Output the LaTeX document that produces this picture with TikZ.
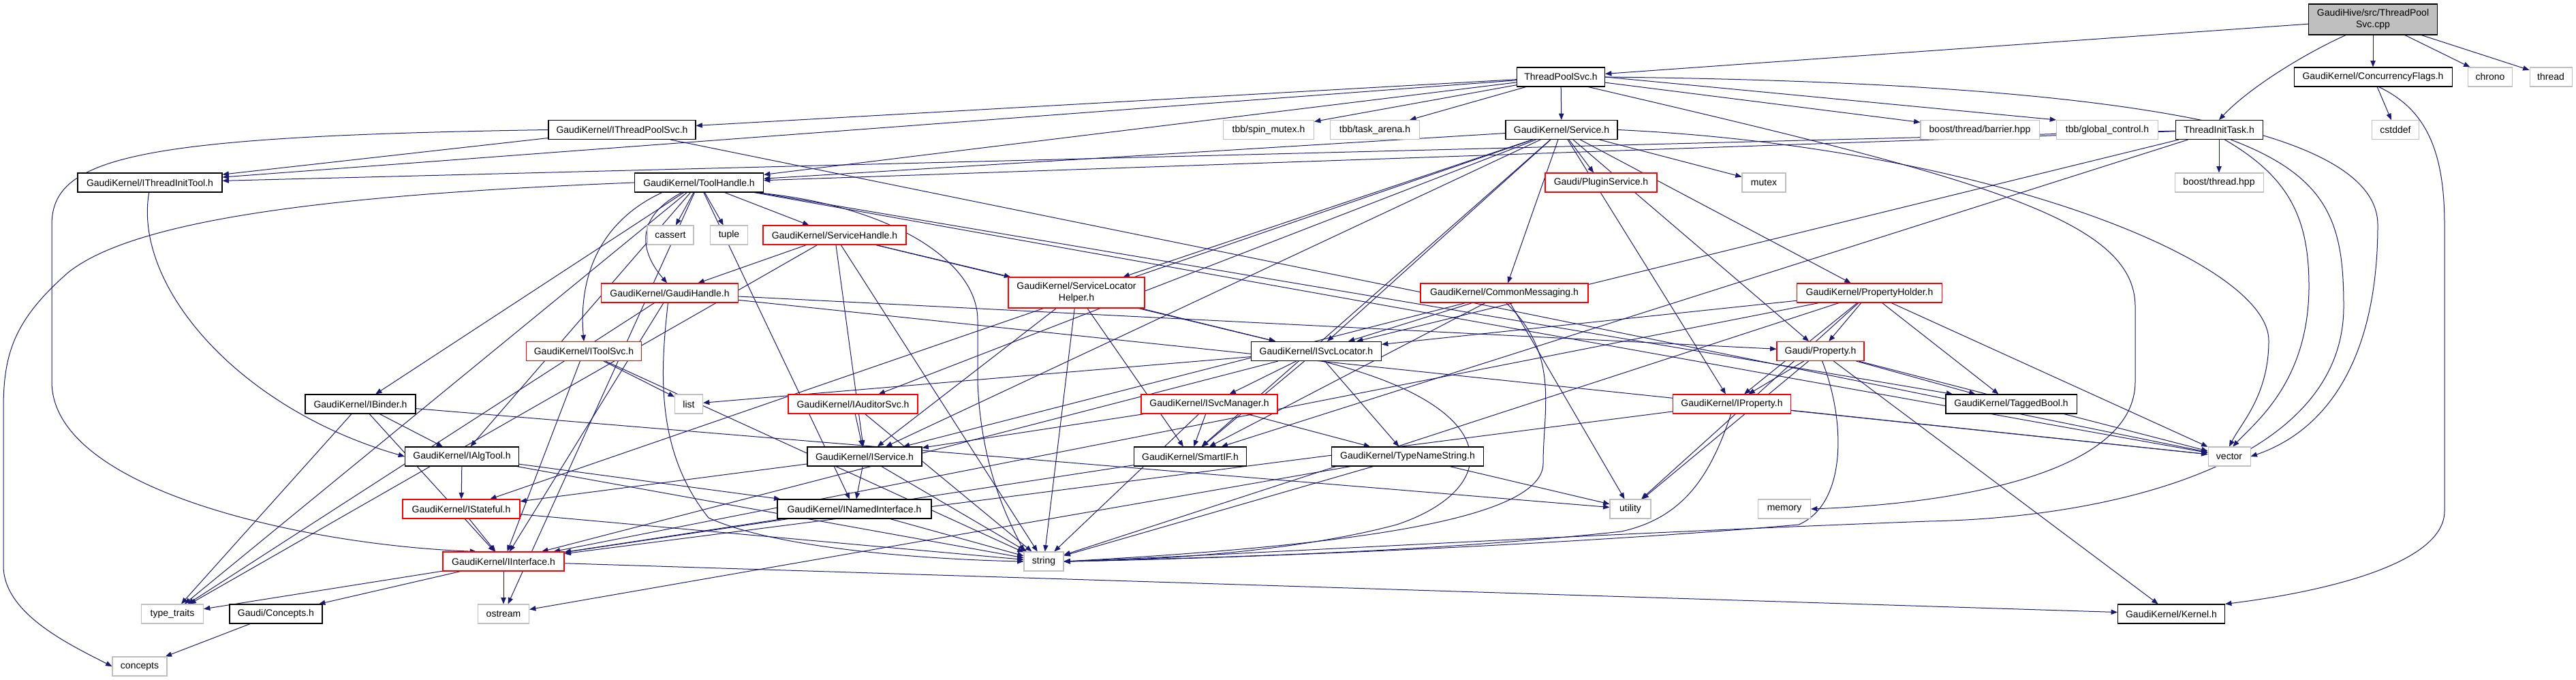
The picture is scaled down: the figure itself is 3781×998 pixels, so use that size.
\documentclass[tikz,border=0pt]{standalone}
\usepackage{fontspec}
\setmainfont{Liberation Sans}
\usetikzlibrary{arrows.meta,backgrounds}
\definecolor{edgeblue}{RGB}{25,25,112}
\definecolor{sysgrey}{RGB}{191,191,191}
\tikzset{
 box/.style={rectangle, fill=white, inner sep=0pt, minimum height=21pt, font=\fontsize{10.5}{13}\selectfont, line width=0.8pt},
 docbox/.style={box, draw=black},
 sysbox/.style={box, draw=sysgrey},
 redbox/.style={box, draw=red},
 rootbox/.style={box, draw=black, fill=sysgrey, align=center, minimum height=33.75pt},
 dep/.style={draw=edgeblue, line width=0.75pt, -{Triangle[length=7pt,width=5.5pt]}},
}
\newcommand\mkn[6]{\node[#1, minimum width=#5*0.75pt] (#2) at (#3,#4) {#6};}
\newcommand\lnk[2]{\draw[dep] (#1) -- (#2);}
\begin{document}
\begin{tikzpicture}[x=0.75pt,y=-0.75pt]
\useasboundingbox (0,0) rectangle (3781,998);
\mkn{rootbox}{root}{3483}{28.5}{189}{GaudiHive/src/ThreadPool\\Svc.cpp}
\mkn{docbox}{tps}{2291}{113}{129}{ThreadPoolSvc.h}
\mkn{docbox}{cflags}{3483}{113}{232}{GaudiKernel/ConcurrencyFlags.h}
\mkn{sysbox}{chrono}{3655}{113}{65}{chrono}
\mkn{sysbox}{thread}{3744}{113}{62}{thread}
\mkn{docbox}{itps}{913}{190.5}{216}{GaudiKernel/IThreadPoolSvc.h}
\mkn{sysbox}{spin}{1862}{190.5}{133}{tbb/spin\_mutex.h}
\mkn{sysbox}{arena}{2018}{190.5}{131}{tbb/task\_arena.h}
\mkn{docbox}{service}{2292}{190.5}{164}{GaudiKernel/Service.h}
\mkn{sysbox}{barrier}{2906}{190.5}{174}{boost/thread/barrier.hpp}
\mkn{sysbox}{gctl}{3093}{190.5}{149}{tbb/global\_control.h}
\mkn{docbox}{tit}{3257}{190.5}{128}{ThreadInitTask.h}
\mkn{sysbox}{cstddef}{3516}{190.5}{69}{cstddef}
\mkn{docbox}{itit}{220}{268}{212}{GaudiKernel/IThreadInitTool.h}
\mkn{docbox}{toolh}{1026}{268}{189}{GaudiKernel/ToolHandle.h}
\mkn{redbox}{plugin}{2350}{268}{164}{Gaudi/PluginService.h}
\mkn{sysbox}{mutex}{2589}{268}{64}{mutex}
\mkn{sysbox}{bthread}{3257}{268}{130}{boost/thread.hpp}
\mkn{sysbox}{cassert}{984}{345}{68}{cassert}
\mkn{sysbox}{tuple}{1070}{345}{55}{tuple}
\mkn{redbox}{shandle}{1225}{345}{210}{GaudiKernel/ServiceHandle.h}
\mkn{redbox}{ghandle}{983}{430}{201}{GaudiKernel/GaudiHandle.h}
\node[redbox, align=center, minimum height=33.75pt, minimum width=200*0.75pt] (slhelper) at (1580,429.5) {GaudiKernel/ServiceLocator\\Helper.h};
\mkn{redbox}{cmsg}{2208}{430}{246}{GaudiKernel/CommonMessaging.h}
\mkn{redbox}{pholder}{2744}{430}{213}{GaudiKernel/PropertyHolder.h}
\mkn{redbox}{itoolsvc}{857}{515.5}{169}{GaudiKernel/IToolSvc.h}
\mkn{docbox}{isvcloc}{1932}{515.5}{191}{GaudiKernel/ISvcLocator.h}
\mkn{redbox}{property}{2672}{515.5}{128}{Gaudi/Property.h}
\mkn{docbox}{ibinder}{529}{593}{162}{GaudiKernel/IBinder.h}
\mkn{sysbox}{list}{1011}{593}{41}{list}
\mkn{redbox}{iauditor}{1252}{593}{190}{GaudiKernel/IAuditorSvc.h}
\mkn{redbox}{isvcmgr}{1775}{593}{200}{GaudiKernel/ISvcManager.h}
\mkn{redbox}{iproperty}{2542}{593}{173}{GaudiKernel/IProperty.h}
\mkn{docbox}{tagged}{2952}{593}{192}{GaudiKernel/TaggedBool.h}
\mkn{docbox}{ialgtool}{678}{670}{167}{GaudiKernel/IAlgTool.h}
\mkn{docbox}{iservice}{1269}{670}{168}{GaudiKernel/IService.h}
\mkn{docbox}{smartif}{1747}{670}{165}{GaudiKernel/SmartIF.h}
\mkn{docbox}{tname}{2066}{670}{223}{GaudiKernel/TypeNameString.h}
\mkn{sysbox}{vector}{3272}{670}{62}{vector}
\mkn{redbox}{istateful}{677}{747}{172}{GaudiKernel/IStateful.h}
\mkn{docbox}{inamed}{1254}{747}{226}{GaudiKernel/INamedInterface.h}
\mkn{sysbox}{utility}{2393}{747}{60}{utility}
\mkn{sysbox}{memory}{2619}{747}{77}{memory}
\mkn{redbox}{iface}{739}{824}{178}{GaudiKernel/IInterface.h}
\mkn{sysbox}{string}{1532}{824}{58}{string}
\mkn{sysbox}{ttraits}{253}{901}{91}{type\_traits}
\mkn{docbox}{conch}{405}{901}{136}{Gaudi/Concepts.h}
\mkn{sysbox}{ostream}{739}{901}{75}{ostream}
\mkn{docbox}{kernel}{3187}{901}{157}{GaudiKernel/Kernel.h}
\mkn{sysbox}{concepts}{205}{978}{80}{concepts}
\begin{scope}[on background layer]
% custom routed edges
\draw[dep] (cflags.-60) .. controls (3560,160) and (3588,220) .. (3588,330) -- (3588,750) .. controls (3588,830) and (3400,870) .. (kernel.north east);
\draw[dep] (tps.east) .. controls (3000,120) and (3490,170) .. (3490,330) .. controls (3490,520) and (3420,630) .. (vector.east);
\draw[dep] (service.east) .. controls (2900,215) and (3330,380) .. (3330,500) .. controls (3330,580) and (3290,620) .. (vector.north);
\draw[dep] (tps.-20) .. controls (2900,260) and (3134,320) .. (3134,450) -- (3134,560) .. controls (3134,700) and (2850,740) .. (memory.east);
\draw[dep] (tit.-60) .. controls (3360,260) and (3389,320) .. (3389,420) .. controls (3389,560) and (3310,620) .. (vector.70);
\draw[dep] (tit.-40) .. controls (3420,260) and (3440,330) .. (3440,450) .. controls (3440,680) and (3100,760) .. (2831,765) .. controls (2300,785) and (1800,815) .. (string.east);
\draw[dep] (itps.west) .. controls (200,200) and (76,230) .. (76,330) -- (76,560) .. controls (76,720) and (450,800) .. (iface.160);
\draw[dep] (toolh.west) .. controls (500,285) and (200,320) .. (100,400) .. controls (20,470) and (5,520) .. (5,600) -- (5,830) .. controls (5,900) and (100,945) .. (concepts.west);
\draw[dep] (toolh.-10) .. controls (1300,300) and (1435,380) .. (1435,470) -- (1435,560) .. controls (1440,700) and (1490,780) .. (string.north west);
\draw[dep] (ghandle.-100) .. controls (970,540) and (960,660) .. (1040,760) .. controls (1150,810) and (1400,822) .. (string.west);
\draw[dep] (itit.-95) .. controls (195,420) and (350,600) .. (ialgtool.west);
\draw[dep] (property.-80) .. controls (2710,620) and (2710,740) .. (2640,770) .. controls (2300,800) and (1800,820) .. (string.east);
\draw[dep] (iproperty.-95) .. controls (2510,700) and (2470,760) .. (2380,780) .. controls (2100,810) and (1800,818) .. (string.east);
\draw[dep] (isvcloc.-60) .. controls (2220,600) and (2200,720) .. (2050,770) .. controls (1900,810) and (1700,822) .. (string.east);
\draw[dep] (cmsg.-80) .. controls (2290,520) and (2265,600) .. (2265,680) .. controls (2265,760) and (2000,800) .. (string.east);
\draw[dep] (toolh.-150) .. controls (930,320) and (940,370) .. (ghandle.105);
\draw[dep] (toolh.-165) .. controls (870,330) and (850,420) .. (itoolsvc.north);
\draw[dep] (root.-150) .. controls (3380,80) and (3300,130) .. (tit.north);
\draw[dep] (tps.east) -- (gctl.north west);
% straight edges
\lnk{root}{tps}\lnk{root}{cflags}\lnk{root}{chrono}\lnk{root}{thread}
\lnk{cflags}{cstddef}
\lnk{tps}{itps}\lnk{tps}{spin}\lnk{tps}{arena}\lnk{tps}{service}\lnk{tps}{barrier}\lnk{tps}{itit}\lnk{tps}{toolh}
\lnk{itps}{itit}\lnk{itps}{vector}
\lnk{tit}{itit}\lnk{tit}{toolh}\lnk{tit}{isvcloc}\lnk{tit}{smartif}\lnk{tit}{bthread}
\lnk{service}{plugin}\lnk{service}{mutex}\lnk{service}{cmsg}\lnk{service}{pholder}\lnk{service}{property}
\lnk{service}{iproperty}\lnk{service}{isvcloc}\lnk{service}{smartif}\lnk{service}{iservice}\lnk{service}{iauditor}
\lnk{service}{slhelper}\lnk{service}{toolh}\lnk{service}{istateful}
\lnk{toolh}{ialgtool}\lnk{toolh}{ibinder}\lnk{toolh}{inamed}
\lnk{toolh}{shandle}\lnk{toolh}{tagged}\lnk{toolh}{cassert}\lnk{toolh}{tuple}\lnk{toolh}{ttraits}
\lnk{toolh}{vector}\lnk{toolh}{ostream}
\lnk{shandle}{ghandle}\lnk{shandle}{slhelper}\lnk{shandle}{isvcloc}\lnk{shandle}{string}\lnk{shandle}{ttraits}\lnk{shandle}{iservice}
\lnk{ghandle}{iface}\lnk{ghandle}{property}\lnk{ghandle}{ttraits}\lnk{ghandle}{vector}
\lnk{slhelper}{isvcloc}\lnk{slhelper}{smartif}\lnk{slhelper}{string}\lnk{slhelper}{iservice}
\lnk{cmsg}{isvcloc}\lnk{cmsg}{smartif}\lnk{cmsg}{iservice}\lnk{cmsg}{utility}
\lnk{pholder}{isvcloc}\lnk{pholder}{iface}\lnk{pholder}{iproperty}\lnk{pholder}{property}\lnk{pholder}{utility}
\lnk{pholder}{vector}\lnk{pholder}{string}\lnk{pholder}{tagged}
\lnk{itoolsvc}{iface}\lnk{itoolsvc}{string}\lnk{itoolsvc}{list}
\lnk{isvcloc}{list}\lnk{isvcloc}{iface}\lnk{isvcloc}{smartif}\lnk{isvcloc}{isvcmgr}\lnk{isvcloc}{tname}
\lnk{property}{iproperty}\lnk{property}{tagged}\lnk{property}{utility}\lnk{property}{vector}\lnk{property}{kernel}
\lnk{ibinder}{ialgtool}\lnk{ibinder}{iface}\lnk{ibinder}{ttraits}\lnk{ibinder}{utility}
\lnk{iauditor}{iservice}\lnk{iauditor}{string}
\lnk{isvcmgr}{iservice}\lnk{isvcmgr}{smartif}\lnk{isvcmgr}{string}\lnk{isvcmgr}{tname}
\lnk{iproperty}{iface}\lnk{iproperty}{vector}
\lnk{ialgtool}{istateful}\lnk{ialgtool}{inamed}\lnk{ialgtool}{string}
\lnk{iservice}{inamed}\lnk{iservice}{istateful}\lnk{iservice}{string}
\lnk{smartif}{iface}
\lnk{tname}{string}\lnk{tname}{utility}\lnk{tname}{ostream}
\lnk{istateful}{iface}\lnk{istateful}{string}
\lnk{inamed}{iface}\lnk{inamed}{string}
\lnk{iface}{ttraits}\lnk{iface}{conch}\lnk{iface}{ostream}\lnk{iface}{kernel}
\lnk{conch}{concepts}
\end{scope}
\end{tikzpicture}
\end{document}
